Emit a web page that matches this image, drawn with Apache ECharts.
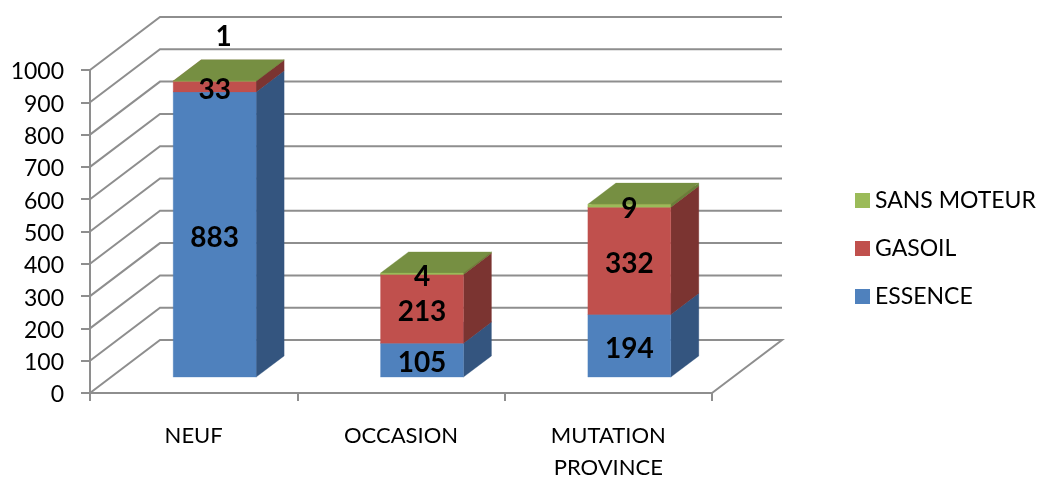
<!DOCTYPE html>
<html>
<head>
<meta charset="utf-8">
<style>html,body{margin:0;padding:0;background:#fff}#c{width:1038px;height:477px}</style>
<script src="https://cdn.jsdelivr.net/npm/echarts@6/dist/echarts.min.js"></script>
</head>
<body>
<div id="c"></div>
<script>
const categories = ['NEUF', 'OCCASION', 'MUTATION\nPROVINCE'];
const essence = [883, 105, 194];
const gasoil = [33, 213, 332];
const sansMoteur = [1, 4, 9];
const yTicks = [0, 100, 200, 300, 400, 500, 600, 700, 800, 900, 1000];

const DEPTH = [70, -53];
const BAR_NEAR = 0.3, BAR_FAR = 0.7, BAR_WIDTH = 0.4;
const GRID_COLOR = '#8e8e8e';
const LINE_W = 2;
const FONT = 'Lato';

const chart = echarts.init(document.getElementById('c'), null, {renderer: 'canvas'});

function stacked(layers, idx) {
  return categories.map((_, i) => {
    let base = 0;
    for (let k = 0; k < idx; k++) base += layers[k][i];
    return [i, base, base + layers[idx][i], layers[idx][i]];
  });
}
const layers = [essence, gasoil, sansMoteur];

function barRender(colors) {
  return function (params, api) {
    const c0 = api.coord([api.value(0), api.value(1)]);
    const c1 = api.coord([api.value(0), api.value(2)]);
    const w = api.size([1, 0])[0] * BAR_WIDTH;
    const nx = DEPTH[0] * BAR_NEAR, ny = DEPTH[1] * BAR_NEAR;
    const fx = DEPTH[0] * BAR_FAR, fy = DEPTH[1] * BAR_FAR;
    const l = c0[0] - w / 2 + nx, r = c0[0] + w / 2 + nx;
    const b = c0[1] + ny, t = c1[1] + ny;
    const dx = fx - nx, dy = fy - ny;
    const poly = (pts, fill) => ({type: 'polygon', shape: {points: pts}, style: {fill: fill, stroke: fill, lineWidth: 0.3}});
    return {type: 'group', children: [
      poly([[r, b], [r + dx, b + dy], [r + dx, t + dy], [r, t]], colors.side),
      poly([[l, t], [r, t], [r + dx, t + dy], [l + dx, t + dy]], colors.top),
      poly([[l, b], [r, b], [r, t], [l, t]], colors.front)
    ]};
  };
}

function labelRender(params, api) {
  const c0 = api.coord([api.value(0), api.value(1)]);
  const c1 = api.coord([api.value(0), api.value(2)]);
  const val = api.value(3);
  let x = c0[0] + DEPTH[0] * BAR_NEAR;
  let y = (c0[1] + c1[1]) / 2 + DEPTH[1] * BAR_NEAR + 3;
  // The smallest label was moved above the bar by hand in the reference
  if (val === 1) { x += 9; y -= 47; }
  return {type: 'text', style: {
    x: x, y: y, text: String(val), fill: '#000',
    font: 'bold 28px ' + FONT, align: 'center', verticalAlign: 'middle'
  }};
}

function wallRender(params, api) {
  const cs = params.coordSys;
  const v = api.value(1);
  const y = api.coord([0, v])[1];
  const x0 = cs.x, x1 = cs.x + cs.width;
  const pts = [[x0, y], [x0 + DEPTH[0], y + DEPTH[1]], [x1 + DEPTH[0], y + DEPTH[1]]];
  if (v === 0) pts.push([x1, y]);
  return {type: 'polyline', shape: {points: pts}, style: {fill: 'none', stroke: GRID_COLOR, lineWidth: LINE_W}};
}

const palette = [
  {front: '#4F81BD', side: '#34557F', top: '#3F6797'},
  {front: '#C0504D', side: '#7B3431', top: '#9A403E'},
  {front: '#9BBB59', side: '#68803A', top: '#768F42'}
];
const names = ['ESSENCE', 'GASOIL', 'SANS MOTEUR'];

const series = [{
  type: 'custom', name: 'walls', silent: true, z: 1, clip: false,
  data: yTicks.map(v => [0, v]), renderItem: wallRender
}];
layers.forEach((_, i) => series.push({
  type: 'custom', name: names[i], z: 2, clip: false,
  itemStyle: {color: palette[i].front},
  data: stacked(layers, i), renderItem: barRender(palette[i])
}));
layers.forEach((_, i) => series.push({
  type: 'custom', name: 'labels' + i, silent: true, z: 5, clip: false,
  data: stacked(layers, i), renderItem: labelRender
}));

chart.setOption({
  animation: false,
  backgroundColor: '#fff',
  grid: {left: 90, top: 70, width: 622, height: 323, containLabel: false, outerBoundsMode: 'none'},
  legend: {
    data: ['SANS MOTEUR', 'GASOIL', 'ESSENCE'],
    orient: 'vertical', left: 855, top: 185, itemWidth: 15, itemHeight: 15, itemGap: 17,
    icon: 'rect', selectedMode: false, padding: 0,
    textStyle: {fontFamily: FONT, fontSize: 23, color: '#000', lineHeight: 28, padding: [3, 0, 0, 0]}
  },
  xAxis: {
    type: 'category', data: categories, boundaryGap: true,
    axisLine: {lineStyle: {color: GRID_COLOR, width: LINE_W}},
    axisTick: {show: true, length: 8, lineStyle: {color: GRID_COLOR, width: LINE_W}},
    axisLabel: {fontFamily: FONT, fontSize: 22, color: '#000', margin: 27, lineHeight: 32, interval: 0},
    splitLine: {show: false}
  },
  yAxis: {
    type: 'value', min: 0, max: 1000, interval: 100,
    axisLine: {show: true, lineStyle: {color: GRID_COLOR, width: LINE_W}},
    axisTick: {show: true, length: 9, lineStyle: {color: GRID_COLOR, width: LINE_W}},
    axisLabel: {fontFamily: FONT, fontSize: 23, color: '#000', margin: 26, verticalAlign: 'top', lineHeight: 4, formatter: v => String(v)},
    splitLine: {show: false}
  },
  series: series
});
</script>
</body>
</html>
